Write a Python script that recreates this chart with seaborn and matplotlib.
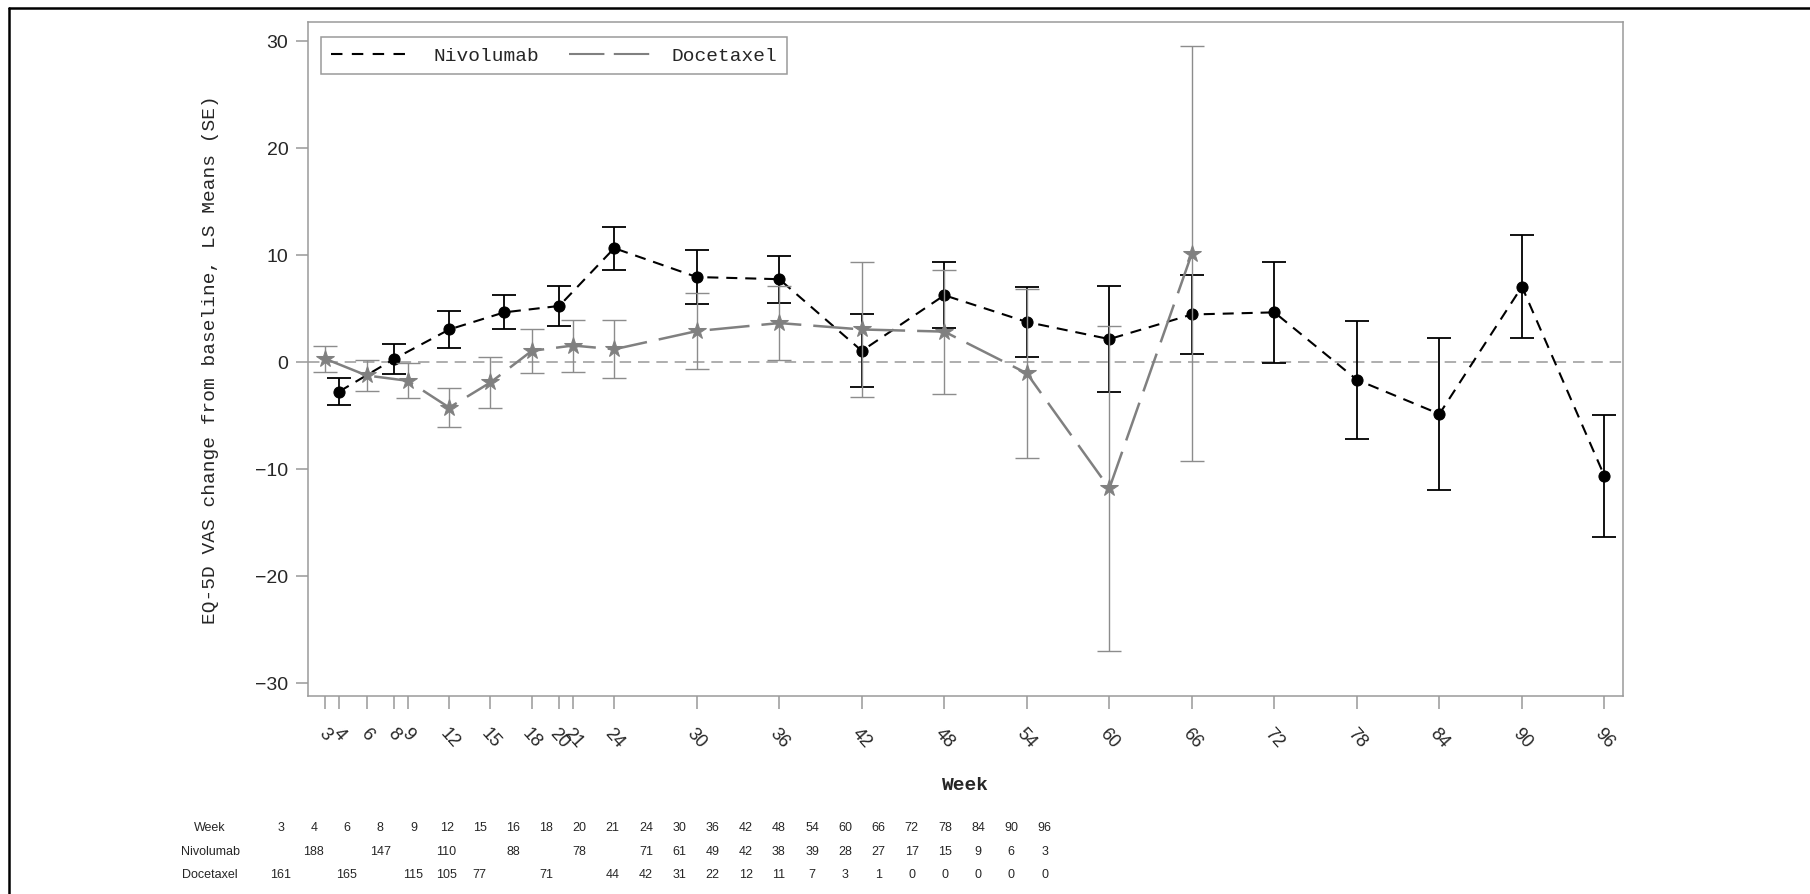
import matplotlib
matplotlib.use("Agg")
import pandas as pd
import matplotlib.pyplot as plt
from matplotlib.lines import Line2D
import seaborn as sns

# LS mean change from baseline (SE)
nivo_weeks = [4, 8, 12, 16, 20, 24, 30, 36, 42, 48, 54, 60, 66, 72, 78, 84, 90, 96]
nivo_mean = [-2.8, 0.25, 3.0, 4.6, 5.2, 10.6, 7.9, 7.7, 1.0, 6.2, 3.7, 2.1, 4.4, 4.6,
             -1.7, -4.9, 7.0, -10.7]
nivo_se = [1.3, 1.4, 1.7, 1.6, 1.9, 2.0, 2.55, 2.2, 3.4, 3.1, 3.3, 4.95, 3.65, 4.7,
           5.5, 7.1, 4.8, 5.7]

doce_weeks = [3, 6, 9, 12, 15, 18, 21, 24, 30, 36, 42, 48, 54, 60, 66]
doce_mean = [0.25, -1.3, -1.8, -4.3, -1.95, 1.0, 1.5, 1.15, 2.85, 3.6, 3.0, 2.8, -1.1,
             -11.85, 10.1]
doce_se = [1.25, 1.45, 1.65, 1.8, 2.37, 2.07, 2.43, 2.7, 3.55, 3.43, 6.35, 5.8, 7.9,
           15.2, 19.4]

tick_weeks = [3, 4, 6, 8, 9, 12, 15, 18, 20, 21, 24, 30, 36, 42, 48, 54, 60, 66, 72,
              78, 84, 90, 96]

# patients at risk table
table_weeks = [3, 4, 6, 8, 9, 12, 15, 16, 18, 20, 21, 24, 30, 36, 42, 48, 54, 60, 66,
               72, 78, 84, 90, 96]
nivo_n = ["", "188", "", "147", "", "110", "", "88", "", "78", "", "71", "61", "49",
          "42", "38", "39", "28", "27", "17", "15", "9", "6", "3"]
doce_n = ["161", "", "165", "", "115", "105", "77", "", "71", "", "44", "42", "31",
          "22", "12", "11", "7", "3", "1", "0", "0", "0", "0", "0"]

NIVO_COLOR = "black"
DOCE_COLOR = "#808080"
MONO = ["Liberation Mono", "DejaVu Sans Mono"]
NARROW = ["Liberation Sans Narrow", "Liberation Sans", "DejaVu Sans"]

sns.set_style("white")
plt.rcParams["font.family"] = ["Liberation Sans", "DejaVu Sans"]

W, H = 1810, 895
fig = plt.figure(figsize=(W / 100, H / 100), dpi=100)
ax = fig.add_axes([308 / W, 1 - 697 / H, 1315 / W, 674 / H])

nivo_df = pd.DataFrame({"week": nivo_weeks, "mean": nivo_mean, "se": nivo_se,
                        "arm": "Nivolumab"})
doce_df = pd.DataFrame({"week": doce_weeks, "mean": doce_mean, "se": doce_se,
                        "arm": "Docetaxel"})

ax.axhline(0, color="#999999", lw=1.1, dashes=(7.5, 4.5), zorder=1)

# Nivolumab
ax.errorbar(nivo_df["week"], nivo_df["mean"], yerr=nivo_df["se"], fmt="none",
            ecolor=NIVO_COLOR, elinewidth=1.3, capsize=8.5, capthick=1.3, zorder=2)
sns.lineplot(data=nivo_df, x="week", y="mean", hue="arm", style="arm",
             palette={"Nivolumab": NIVO_COLOR}, markers={"Nivolumab": "o"},
             dashes={"Nivolumab": (5.3, 3.8)}, errorbar=None, legend=False,
             lw=1.5, markersize=8, markeredgecolor=NIVO_COLOR, ax=ax, zorder=3)

# Docetaxel
ax.errorbar(doce_df["week"], doce_df["mean"], yerr=doce_df["se"], fmt="none",
            ecolor="#8c8c8c", elinewidth=1.0, capsize=8.5, capthick=1.0, zorder=4)
sns.lineplot(data=doce_df, x="week", y="mean", hue="arm", style="arm",
             palette={"Docetaxel": DOCE_COLOR}, markers={"Docetaxel": "*"},
             dashes={"Docetaxel": (16, 4.8)}, errorbar=None, legend=False,
             lw=1.8, markersize=13, markeredgecolor=DOCE_COLOR, ax=ax, zorder=5)

ax.set_xlim(1.73, 97.35)
ax.set_ylim(-31.26, 31.74)
ax.set_yticks([-30, -20, -10, 0, 10, 20, 30])
ax.set_xticks(tick_weeks)
ax.set_xticklabels([str(w) for w in tick_weeks], rotation=-48, ha="center",
                   fontsize=13)
ax.tick_params(axis="y", labelsize=14, length=8.6, width=1.1, color="#999999",
               pad=5.5, left=True)
ax.tick_params(axis="x", length=9.4, width=1.1, color="#999999", pad=11,
               bottom=True)
for sp in ax.spines.values():
    sp.set_color("#9a9a9a")
    sp.set_linewidth(1.1)

ax.set_ylabel("EQ-5D VAS change from baseline, LS Means (SE)", family=MONO,
              fontsize=14)
ax.yaxis.set_label_coords(-0.068, 0.5)
ax.set_xlabel("Week", family=MONO, fontsize=14, fontweight="bold")
ax.xaxis.set_label_coords(0.5, -0.119)

handles = [Line2D([], [], color=NIVO_COLOR, lw=1.5, dashes=(5.5, 4.5)),
           Line2D([], [], color=DOCE_COLOR, lw=1.5, dashes=(17, 4.5))]
leg = ax.legend(handles, ["Nivolumab", "Docetaxel"], ncol=2, loc="upper left",
                bbox_to_anchor=(13 / 1315, 1 - 15 / 674), borderaxespad=0,
                prop={"family": MONO, "size": 14}, handlelength=4.2,
                handletextpad=1.1, columnspacing=1.5, borderpad=0.5,
                fancybox=False, framealpha=1, edgecolor="#9a9a9a")
leg.get_frame().set_linewidth(1.1)

# numbers at risk below the axis
col0, step = 280.5, 33.22
rows = [("Week", [str(w) for w in table_weeks], 828),
        ("Nivolumab", nivo_n, 852),
        ("Docetaxel", doce_n, 875)]
for label, vals, ypx in rows:
    fig.text(210 / W, 1 - ypx / H, label, ha="center", va="center", fontsize=9,
             family=NARROW)
    for i, v in enumerate(vals):
        if v:
            fig.text((col0 + i * step) / W, 1 - ypx / H, v, ha="center",
                     va="center", fontsize=9, family=NARROW)

# outer frame, only top and left edges visible in the crop
fig.add_artist(Line2D([9 / W, 9 / W], [0, 1 - 9 / H], color="black", lw=1.8))
fig.add_artist(Line2D([9 / W, 1], [1 - 9 / H, 1 - 9 / H], color="black", lw=1.8))

fig.savefig("out.png", dpi=100)
